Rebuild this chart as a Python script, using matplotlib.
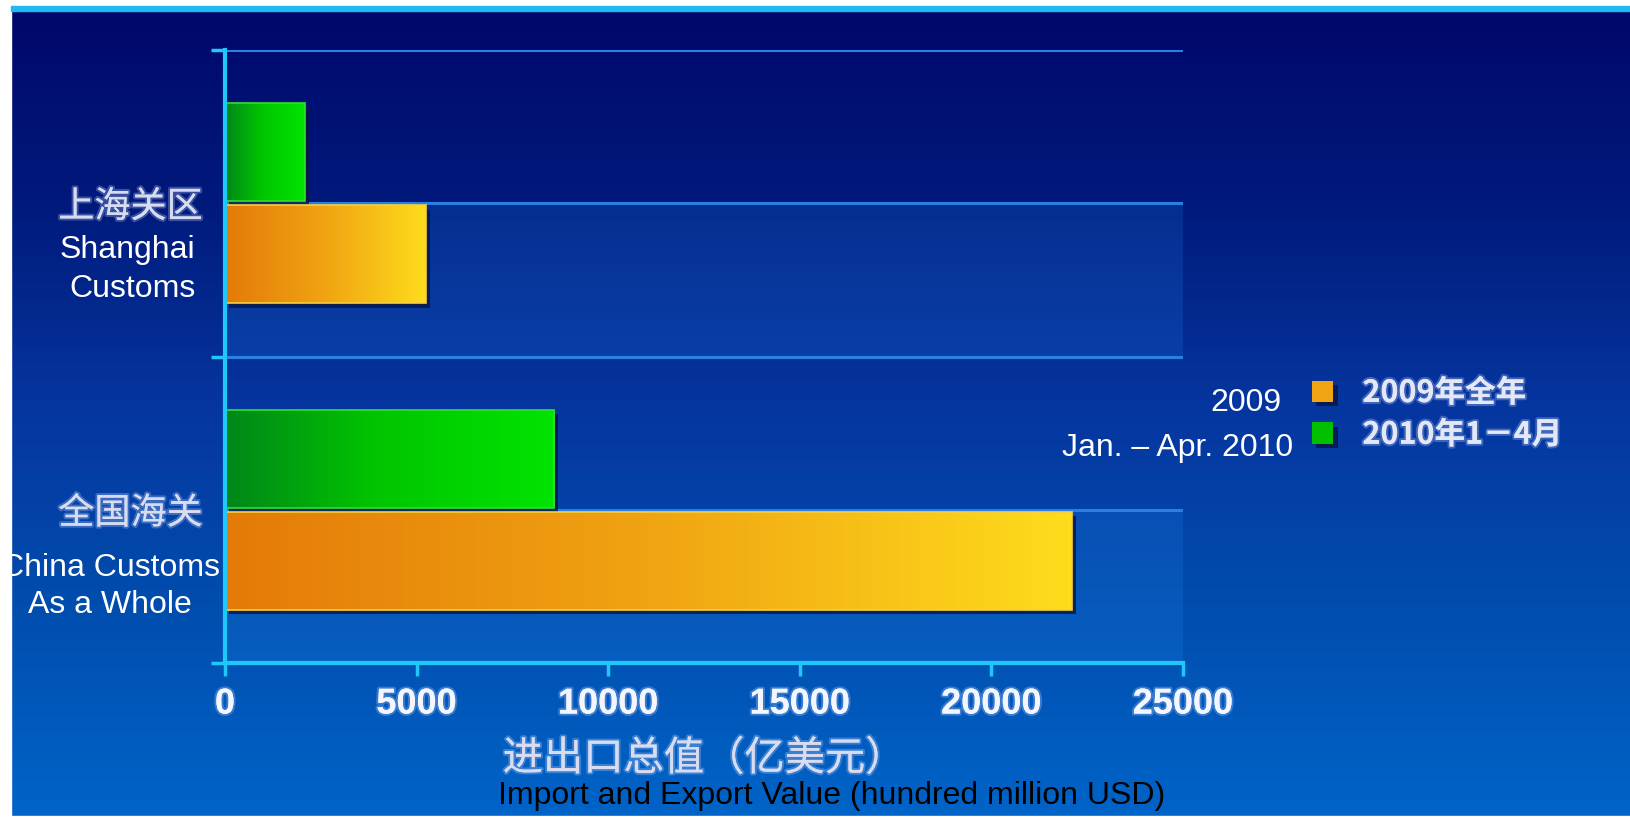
import numpy as np
import matplotlib
matplotlib.use("Agg")
from matplotlib import pyplot as plt
from matplotlib.colors import LinearSegmentedColormap
from matplotlib.patches import Rectangle
import matplotlib.patheffects as pe
import matplotlib.transforms as mtransforms

plt.rcParams['font.family'] = ['Noto Sans CJK SC', 'DejaVu Sans']

# data (hundred million USD)
cats_cn = ["全国海关", "上海关区"]
cats_en = ["China Customs\nAs a Whole", "Shanghai\nCustoms"]
val_2009 = [22100, 5240]
val_2010 = [8590, 2080]
series_cn = ["2009年全年", "2010年1－4月"]
series_en = ["2009", "Jan. – Apr. 2010"]
xticks = [0, 5000, 10000, 15000, 20000, 25000]
xlabel_cn = "进出口总值（亿美元）"
xlabel_en = "Import and Export Value (hundred million USD)"

W, H = 1630, 818
fig = plt.figure(figsize=(W / 100, H / 100), dpi=100)

# slide background, dark navy at the top to bright blue at the bottom
bg = fig.add_axes([0, 0, 1, 1], zorder=-10)
bg_cmap = LinearSegmentedColormap.from_list(
    "bg", [(0, '#00066a'), (0.25, '#001a7c'), (0.5, '#0636a0'),
           (0.75, '#004eae'), (1, '#0064c8')])
bg.imshow(np.linspace(0, 1, 256).reshape(-1, 1), aspect='auto',
          cmap=bg_cmap, extent=[0, 1, 0, 1])
bg.set_axis_off()

ax = fig.add_axes([225 / W, 1 - 663 / H, (1183 - 225) / W, (663 - 50) / H])
ax.set_facecolor('none')

axis_col = '#1ec8f8'
glow = [pe.withStroke(linewidth=3, foreground=(0.75, 0.82, 1.0, 0.3))]

y = np.arange(len(cats_cn))
h = 0.32
shadow = [pe.SimplePatchShadow(offset=(3, -3), shadow_rgbFace='#0a1640', alpha=0.8),
          pe.Normal()]
b09 = ax.barh(y - 0.167, val_2009, height=h, color='#f0a414', zorder=3,
              label=series_cn[0])
b10 = ax.barh(y + 0.167, val_2010, height=h, color='#00c000', zorder=3,
              label=series_cn[1])

orange = LinearSegmentedColormap.from_list("o", ['#e47a08', '#f0a412', '#fedc1c'])
green = LinearSegmentedColormap.from_list(
    "g", [(0, '#00861a'), (0.45, '#00c400'), (1, '#00e400')])


def paint(bars, cmap, edge):
    grad = np.linspace(0, 1, 256).reshape(1, -1)
    for bar in bars:
        bar.set_path_effects(shadow)
        x0, y0 = bar.get_x(), bar.get_y()
        im = ax.imshow(grad, cmap=cmap, aspect='auto', zorder=3.5,
                       extent=[x0, x0 + bar.get_width(), y0, y0 + bar.get_height()])
        im.set_clip_path(bar)
        ax.add_patch(Rectangle((x0, y0), bar.get_width(), bar.get_height(),
                               fill=False, ec=edge, lw=1.2, zorder=3.6))


paint(b09, orange, '#f6d040')
paint(b10, green, '#30e030')

# lighter back-wall bands in the lower half of each category
for yc in y:
    ax.axhspan(yc - 0.5, yc, color='#2896ff', alpha=0.16, lw=0, zorder=0.5)

ax.set_xlim(0, 25000)
ax.set_ylim(-0.5, 1.5)
ax.set_xticks(xticks)
ax.set_yticks(y)
ax.set_yticklabels(cats_cn)
ax.set_yticks([-0.5, 0.5, 1.5], minor=True)
ax.yaxis.grid(True, which='both', color='#2a80e0', lw=2.2, zorder=1)
ax.set_axisbelow(True)

for s in ['top', 'right']:
    ax.spines[s].set_visible(False)
for s in ['left', 'bottom']:
    ax.spines[s].set_color(axis_col)
    ax.spines[s].set_linewidth(3)
    ax.spines[s].set_zorder(5)

ax.tick_params(axis='y', which='major', length=0, pad=16, labelsize=26,
               labelcolor='#d8dcf0')
ax.tick_params(axis='y', which='minor', length=10, width=2.5, color=axis_col)
ax.tick_params(axis='x', length=9, width=2.5, color=axis_col, pad=8,
               labelsize=26, labelcolor='#f4f6ff')
for lbl in ax.get_xticklabels():
    lbl.set_fontfamily('Liberation Sans')
    lbl.set_fontweight('bold')
    lbl.set_path_effects(glow)
for lbl in ax.get_yticklabels():
    lbl.set_path_effects(glow)

ax.set_xlabel(xlabel_cn, fontsize=29, color='#d8dcf0', labelpad=12)
ax.xaxis.label.set_path_effects(glow)

# English category labels
tr = mtransforms.blended_transform_factory(ax.transAxes, ax.transData)
ax.text(-0.12, -0.25, cats_en[0], transform=tr, ha='center', va='center',
        multialignment='center', fontsize=23, color='white',
        family='Liberation Sans', linespacing=1.3)
ax.text(-0.031, 0.785, cats_en[1], transform=tr, ha='right', va='center',
        multialignment='right', fontsize=23, color='white',
        family='Liberation Sans', linespacing=1.38)

leg = ax.legend(handles=[b09, b10], labels=series_cn, loc='upper left',
                bbox_to_anchor=(1312 / W, 1 - 377 / H), bbox_transform=fig.transFigure,
                frameon=False, prop={'size': 22, 'weight': 'bold'},
                labelcolor='#e4e8f6', handlelength=0.7, handleheight=0.7,
                handletextpad=0.95, labelspacing=0.32, borderpad=0, borderaxespad=0)
for t in leg.get_texts():
    t.set_path_effects(glow)

fig.text(1281 / W, 1 - 403 / H, series_en[0], ha='right', va='center',
         fontsize=23, color='white', family='Liberation Sans')
fig.text(1293 / W, 1 - 448 / H, series_en[1], ha='right', va='center',
         fontsize=23, color='white', family='Liberation Sans')
fig.text(832 / W, 1 - 796 / H, xlabel_en, ha='center', va='center',
         fontsize=23, color='black', family='Liberation Sans')

# slide frame: white margins and the cyan rule at the top
fig.add_artist(Rectangle((0, 0), 11 / W, 1, transform=fig.transFigure,
                         color='white', zorder=20))
fig.add_artist(Rectangle((0, 1 - 6 / H), 1, 6 / H, transform=fig.transFigure,
                         color='white', zorder=20))
fig.add_artist(Rectangle((11 / W, 1 - 11 / H), 1, 5 / H, transform=fig.transFigure,
                         color='#22b8f0', zorder=20))
fig.add_artist(Rectangle((0, 0), 1, 2 / H, transform=fig.transFigure,
                         color='white', zorder=20))

fig.savefig("out.png", dpi=100)
